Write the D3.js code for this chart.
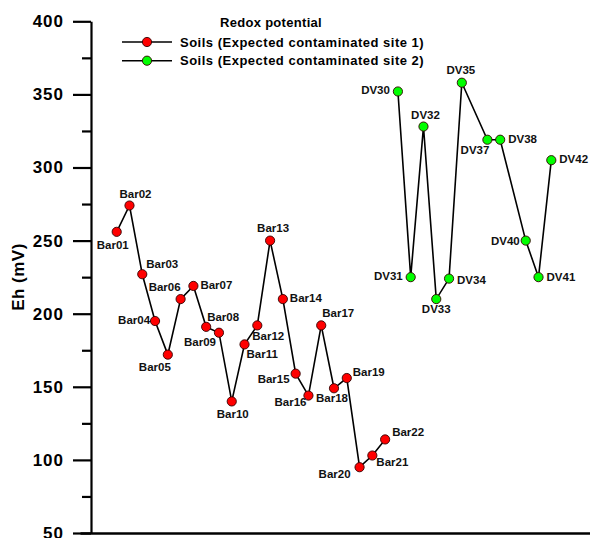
<!DOCTYPE html>
<html>
<head>
<meta charset="utf-8">
<script src="https://cdn.jsdelivr.net/npm/d3@7"></script>
<style>
  html, body { margin: 0; padding: 0; background: #fff; }
  svg { display: block; font-family: "Liberation Sans", Arial, sans-serif; }
</style>
</head>
<body>
<svg id="chart" width="590" height="538"></svg>
<script>
// ---- data ----
const xCategories = ["Bar01","Bar02","Bar03","Bar04","Bar05","Bar06","Bar07","Bar08","Bar09","Bar10","Bar11",
  "Bar12","Bar13","Bar14","Bar15","Bar16","Bar17","Bar18","Bar19","Bar20","Bar21","Bar22",
  "DV30","DV31","DV32","DV33","DV34","DV35","DV36","DV37","DV38","DV39","DV40","DV41","DV42"];
const site1Names = ["Bar01","Bar02","Bar03","Bar04","Bar05","Bar06","Bar07","Bar08","Bar09","Bar10","Bar11",
  "Bar12","Bar13","Bar14","Bar15","Bar16","Bar17","Bar18","Bar19","Bar20","Bar21","Bar22"];
const site1Values = [256, 274, 227, 195, 172, 210, 219, 191, 187, 140, 179,
  192, 250, 210, 159, 144, 192, 149, 156, 95, 103, 114];
const site2Names = ["DV30","DV31","DV32","DV33","DV34","DV35","DV37","DV38","DV40","DV41","DV42"];
const site2Values = [352, 225, 328, 210, 224, 358, 319, 319, 250, 225, 305];
const yTicks = [50, 100, 150, 200, 250, 300, 350, 400];
const yMinorTicks = [75, 125, 175, 225, 275, 325, 375];
const seriesNames = ["Soils (Expected contaminated site 1)", "Soils (Expected contaminated site 2)"];
const legendTitle = "Redox potential";
const yTitle = "Eh (mV)";

// label placement: [anchor, dx, dy]
const site1LabelPos = [
  ["middle",-4,17],["middle",6,-8],["start",4,-6.5],["end",-5,3],["middle",-13,16],["end",0,-8],
  ["start",7,3],["start",1,-6],["end",-3,13],["middle",1,17],["start",2,14],["start",-5,15],
  ["middle",3,-9],["start",7,3],["end",-6,9],["end",-2,10],["start",1,-8],["middle",-2,14],
  ["start",6,-2],["end",-9,11],["start",4,10],["start",7,-3]];
const site2LabelPos = [
  ["end",-8,3],["end",-8,2.5],["middle",2,-8],["middle",0,14],["start",8,5],["middle",-1,-9],
  ["end",2,14],["start",8,3],["end",-6,4],["start",8,4],["start",8,3]];

const colors = ["#ff0000", "#00ff00"];

// ---- scales ----
const svg = d3.select("#chart");
const axisX = 91, axisBottomY = 533;
const x = d3.scalePoint().domain(xCategories).range([116.7, 551.3]);
const y = d3.scaleLinear().domain([50, 400]).range([axisBottomY, 21.3]);

// ---- y axis ----
const yAxis = d3.axisLeft(y).tickValues(yTicks).tickSize(18).tickPadding(9).tickSizeOuter(0);
const gy = svg.append("g").attr("transform", `translate(${axisX},0)`).call(yAxis);
gy.select(".domain").attr("stroke-width", 2.2);
gy.selectAll(".tick line").attr("stroke-width", 2.2);
gy.selectAll(".tick text").attr("font-size", 17).attr("font-weight", "bold")
  .attr("letter-spacing", 1)
  .attr("font-family", "Liberation Sans, Arial, sans-serif").attr("fill", "#000");
const yMinor = d3.axisLeft(y).tickValues(yMinorTicks).tickSize(9).tickFormat("").tickSizeOuter(0);
const gym = svg.append("g").attr("transform", `translate(${axisX},0)`).call(yMinor);
gym.select(".domain").remove();
gym.selectAll(".tick line").attr("stroke-width", 2.2);

// ---- x axis line (no labels visible) ----
const xFrame = d3.scaleLinear().domain([0, 1]).range([80, 590]);
const xAxis = d3.axisBottom(xFrame).tickValues([]).tickSizeOuter(0);
const gx = svg.append("g").attr("transform", `translate(0,${axisBottomY})`).call(xAxis);
gx.select(".domain").attr("stroke-width", 2.4);

// y title
svg.append("text")
  .attr("transform", `translate(24,277) rotate(-90)`)
  .attr("text-anchor", "middle")
  .attr("font-size", 17).attr("font-weight", "bold").attr("letter-spacing", 0.5)
  .text(yTitle);

// ---- series ----
function drawSeries(names, values, color, labelPos) {
  const pts = names.map((n, i) => ({ n, v: values[i], lp: labelPos[i] }));
  const line = d3.line().x(d => x(d.n)).y(d => y(d.v));
  svg.append("path").datum(pts).attr("d", line)
    .attr("fill", "none").attr("stroke", "#000").attr("stroke-width", 1.6);
  svg.append("g").selectAll("circle").data(pts).join("circle")
    .attr("cx", d => x(d.n)).attr("cy", d => y(d.v)).attr("r", 4.6)
    .attr("fill", color).attr("stroke", "#300").attr("stroke-width", 0.9);
  svg.append("g").selectAll("text").data(pts).join("text")
    .attr("x", d => x(d.n) + d.lp[1]).attr("y", d => y(d.v) + d.lp[2])
    .attr("text-anchor", d => d.lp[0])
    .attr("font-size", 11.5).attr("font-weight", "bold").attr("fill", "#111")
    .text(d => d.n);
}
drawSeries(site1Names, site1Values, colors[0], site1LabelPos);
drawSeries(site2Names, site2Values, colors[1], site2LabelPos);

// ---- legend ----
const lg = svg.append("g");
lg.append("text").attr("x", 271).attr("y", 27).attr("text-anchor", "middle")
  .attr("font-size", 13).attr("font-weight", "bold").attr("letter-spacing", 0.3).text(legendTitle);
seriesNames.forEach((s, i) => {
  const ry = 42 + i * 18.7;
  lg.append("line").attr("x1", 122).attr("x2", 172).attr("y1", ry).attr("y2", ry)
    .attr("stroke", "#000").attr("stroke-width", 1.6);
  lg.append("circle").attr("cx", 147).attr("cy", ry).attr("r", 4.6)
    .attr("fill", colors[i]).attr("stroke", "#300").attr("stroke-width", 0.9);
  lg.append("text").attr("x", 180).attr("y", ry + 4.7)
    .attr("font-size", 13).attr("font-weight", "bold").attr("letter-spacing", 0.5).text(s);
});
</script>
</body>
</html>
